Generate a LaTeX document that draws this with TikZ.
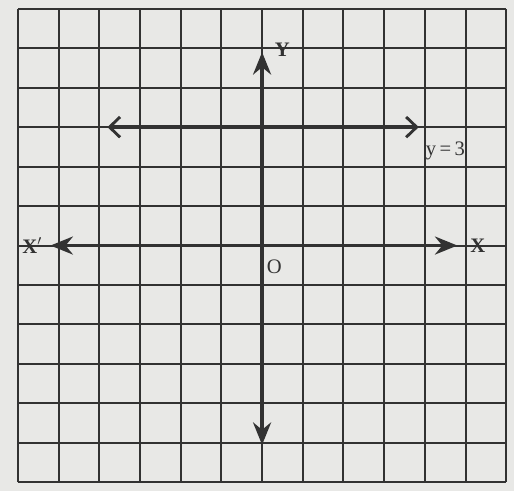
\documentclass[tikz,border=0pt]{standalone}
\usepackage{tikz}
\usepackage{fontspec}
\setmainfont{Liberation Serif}
\usetikzlibrary{arrows.meta}
\definecolor{paper}{RGB}{232,232,230}
\definecolor{ink}{RGB}{50,50,50}

\begin{document}
\begin{tikzpicture}[x=1cm,y=0.97cm,
    gridline/.style={ink,line width=1.4pt},
    axisline/.style={ink,line width=2.6pt,{Stealth[length=5.5mm,width=4.4mm]}-{Stealth[length=5.5mm,width=4.4mm]}},
    graphline/.style={ink,line width=2.6pt,{Straight Barb[length=2.6mm,width=5mm,line width=2pt]}-{Straight Barb[length=2.6mm,width=5mm,line width=2pt]}},
    lbl/.style={ink,font=\Large},
    axlbl/.style={lbl,font=\Large\bfseries}]
    \fill[paper] (-6.44,-6.21) rectangle (6.19,6.22);
    \useasboundingbox (-6.44,-6.21) rectangle (6.19,6.22);
    % grid
    \draw[gridline,step=1] (-6,-6) grid (6,6);
    % axes
    \draw[axisline] (-5.2,0) -- (4.8,0);
    \draw[axisline] (0,-5.05) -- (0,4.9);
    % the line y = 3
    \draw[graphline] (-3.8,3) -- (3.85,3);
    \node[axlbl] (xl) at (-5.65,0) {X$'$};
    \node[axlbl] (xr) at (5.3,0) {X};
    \node[axlbl] (yt) at (0.5,4.95) {Y};
    \node[lbl] (o) at (0.3,-0.55) {O};
    \node[lbl,anchor=west] (eq) at (3.9,2.4) {y\,=\,3};
\end{tikzpicture}
\end{document}
